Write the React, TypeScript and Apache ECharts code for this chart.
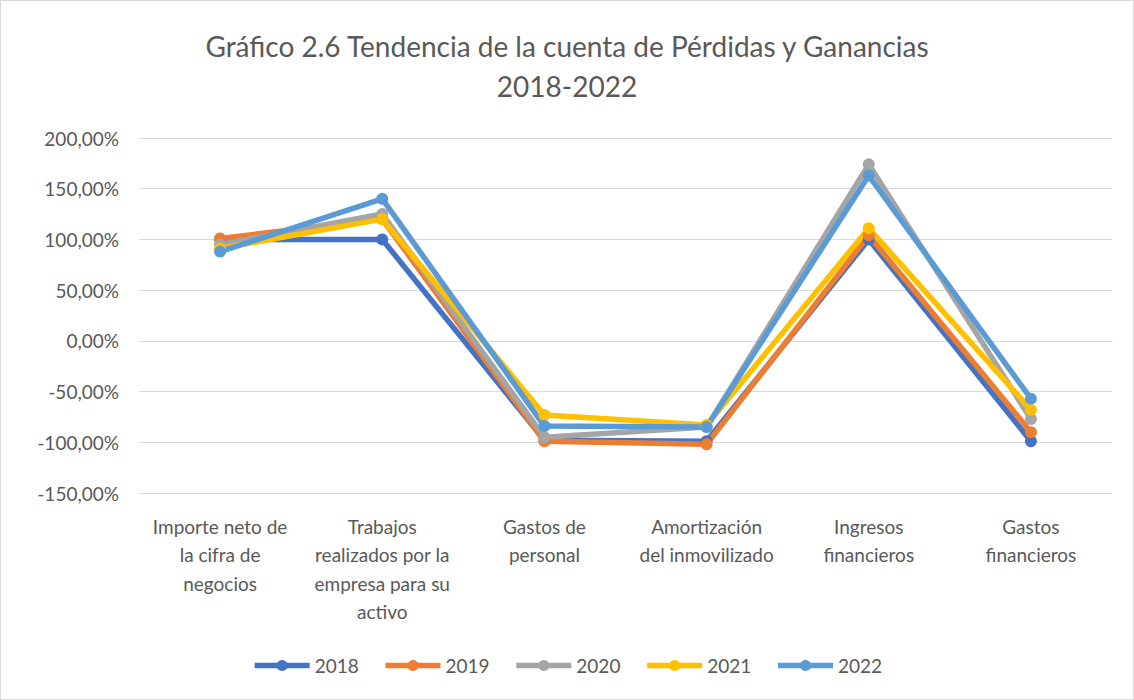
import React, { useEffect, useRef } from "react";
import * as echarts from "echarts";

const categories = [
  "Importe neto de\nla cifra de\nnegocios",
  "Trabajos\nrealizados por la\nempresa para su\nactivo",
  "Gastos de\npersonal",
  "Amortización\ndel inmovilizado",
  "Ingresos\nfinancieros",
  "Gastos\nfinancieros",
];
const years = ["2018", "2019", "2020", "2021", "2022"];
const colors = ["#4472C4", "#ED7D31", "#A5A5A5", "#FFC000", "#5B9BD5"];
const v2018 = [100, 100, -98, -99, 100, -99];
const v2019 = [101, 120, -99, -102, 104, -90];
const v2020 = [95, 125, -95, -85, 174, -77];
const v2021 = [91, 120, -73, -83, 111, -68];
const v2022 = [88, 140, -84, -85, 163, -57];
const seriesValues = [v2018, v2019, v2020, v2021, v2022];
const font = "Lato, 'Open Sans', sans-serif";

export default function App() {
  const ref = useRef<HTMLDivElement>(null);
  useEffect(() => {
    document.body.style.margin = "0";
    const chart = echarts.init(ref.current!, null, { renderer: "svg" });
    chart.setOption({
      animation: false,
      backgroundColor: "#ffffff",
      title: {
        text: "Gráfico 2.6 Tendencia de la cuenta de Pérdidas y Ganancias\n2018-2022",
        left: "center",
        top: 20,
        textStyle: {
          fontFamily: font,
          fontSize: 28,
          fontWeight: "normal",
          color: "#595959",
          lineHeight: 40,
        },
      },
      legend: {
        bottom: 19,
        left: "center",
        itemWidth: 55,
        itemHeight: 14,
        itemGap: 24,
        lineStyle: { width: 5.5 },
        textStyle: { fontFamily: font, fontSize: 19, color: "#595959" },
        data: years,
      },
      grid: { left: 138, right: 21, top: 137, bottom: 206 },
      xAxis: {
        type: "category",
        data: categories,
        boundaryGap: true,
        axisLine: { lineStyle: { color: "#D9D9D9", width: 1 } },
        axisTick: { show: false },
        axisLabel: {
          interval: 0,
          fontFamily: font,
          fontSize: 19,
          color: "#595959",
          lineHeight: 28.5,
          margin: 19,
        },
      },
      yAxis: {
        type: "value",
        min: -150,
        max: 200,
        interval: 50,
        axisLine: { show: false },
        axisTick: { show: false },
        splitLine: { lineStyle: { color: "#D9D9D9", width: 1 } },
        axisLabel: {
          fontFamily: font,
          fontSize: 19,
          color: "#595959",
          margin: 20,
          formatter: (v: number) => v.toFixed(2).replace(".", ",") + "%",
        },
      },
      series: years.map((y, i) => ({
        name: y,
        type: "line",
        data: seriesValues[i],
        color: colors[i],
        symbol: "circle",
        symbolSize: 12,
        lineStyle: { width: 5.5, color: colors[i] },
        itemStyle: { color: colors[i] },
      })),
    });
    return () => chart.dispose();
  }, []);
  return (
    <div
      ref={ref}
      style={{
        width: 1134,
        height: 700,
        position: "absolute",
        left: 0,
        top: 0,
        boxSizing: "border-box",
        border: "1px solid #D9D9D9",
      }}
    />
  );
}
